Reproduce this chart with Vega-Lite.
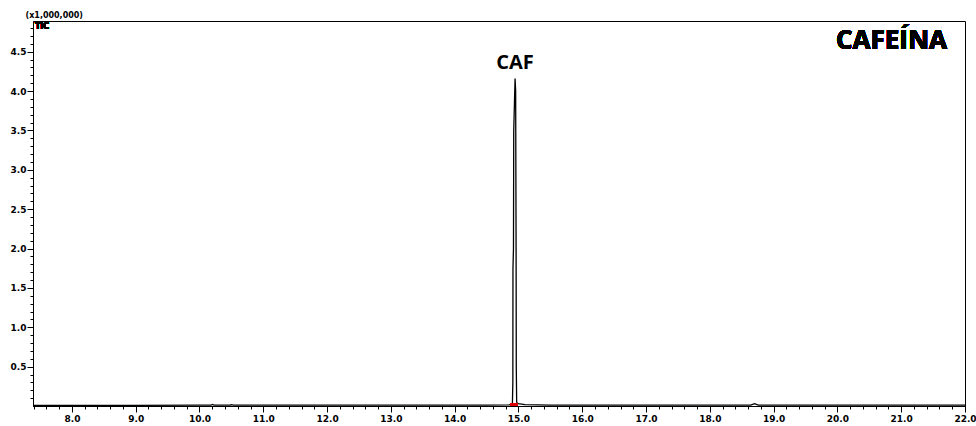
{
  "$schema": "https://vega.github.io/schema/vega-lite/v6.json",
  "width": 932,
  "height": 385,
  "autosize": {"type": "none"},
  "padding": {"left": 33, "top": 21, "right": 11, "bottom": 20},
  "background": "white",
  "config": {
    "view": {"stroke": "#000000", "strokeWidth": 1},
    "axis": {
      "domainColor": "#000000",
      "tickColor": "#000000",
      "labelColor": "#000000",
      "labelFont": "DejaVu Sans",
      "labelFontWeight": "bold",
      "labelFontSize": 9,
      "grid": false,
      "labelOverlap": false,
      "labelFlush": false
    }
  },
  "data": {
    "values": [
      {"t": 7.39, "tic": 0.008},
      {"t": 8.0, "tic": 0.008},
      {"t": 9.0, "tic": 0.009},
      {"t": 10.0, "tic": 0.01},
      {"t": 10.18, "tic": 0.01},
      {"t": 10.2, "tic": 0.02},
      {"t": 10.23, "tic": 0.01},
      {"t": 10.48, "tic": 0.01},
      {"t": 10.5, "tic": 0.017},
      {"t": 10.53, "tic": 0.01},
      {"t": 11.0, "tic": 0.01},
      {"t": 12.0, "tic": 0.01},
      {"t": 13.0, "tic": 0.01},
      {"t": 14.0, "tic": 0.01},
      {"t": 14.5, "tic": 0.012},
      {"t": 14.85, "tic": 0.015},
      {"t": 14.905, "tic": 0.02},
      {"t": 14.912, "tic": 0.3},
      {"t": 14.914, "tic": 1.75},
      {"t": 14.922, "tic": 2.0},
      {"t": 14.926, "tic": 3.5},
      {"t": 14.947, "tic": 4.16, "compound": "CAF"},
      {"t": 14.956, "tic": 4.0},
      {"t": 14.963, "tic": 2.0},
      {"t": 14.966, "tic": 0.5},
      {"t": 14.972, "tic": 0.05},
      {"t": 14.99, "tic": 0.03},
      {"t": 15.05, "tic": 0.025},
      {"t": 15.1, "tic": 0.018},
      {"t": 15.5, "tic": 0.012},
      {"t": 16.0, "tic": 0.01},
      {"t": 17.0, "tic": 0.01},
      {"t": 18.0, "tic": 0.01},
      {"t": 18.64, "tic": 0.012},
      {"t": 18.7, "tic": 0.03},
      {"t": 18.76, "tic": 0.012},
      {"t": 19.0, "tic": 0.01},
      {"t": 20.0, "tic": 0.01},
      {"t": 21.0, "tic": 0.01},
      {"t": 22.0, "tic": 0.01}
    ]
  },
  "encoding": {
    "x": {
      "field": "t",
      "type": "quantitative",
      "scale": {"domain": [7.39, 22.0], "nice": false, "zero": false},
      "axis": {
        "title": null,
        "values": [7.4, 7.6, 7.8, 8.0, 8.2, 8.4, 8.6, 8.8, 9.0, 9.2, 9.4, 9.6, 9.8, 10.0, 10.2, 10.4, 10.6, 10.8, 11.0, 11.2, 11.4, 11.6, 11.8, 12.0, 12.2, 12.4, 12.6, 12.8, 13.0, 13.2, 13.4, 13.6, 13.8, 14.0, 14.2, 14.4, 14.6, 14.8, 15.0, 15.2, 15.4, 15.6, 15.8, 16.0, 16.2, 16.4, 16.6, 16.8, 17.0, 17.2, 17.4, 17.6, 17.8, 18.0, 18.2, 18.4, 18.6, 18.8, 19.0, 19.2, 19.4, 19.6, 19.8, 20.0, 20.2, 20.4, 20.6, 20.8, 21.0, 21.2, 21.4, 21.6, 21.8, 22.0],
        "labelExpr": "abs(datum.value - round(datum.value)) < 0.01 ? format(datum.value, '.1f') : ''",
        "tickSize": {"condition": {"test": "abs(datum.value - round(datum.value)) < 0.01", "value": 6}, "value": 3},
        "labelPadding": 2
      }
    },
    "y": {
      "field": "tic",
      "type": "quantitative",
      "scale": {"domain": [0, 4.89], "nice": false},
      "axis": {
        "title": "(x1,000,000)",
        "titleAngle": 0,
        "titleAlign": "left",
        "titleBaseline": "bottom",
        "titleX": -8,
        "titleY": -2,
        "titleFont": "DejaVu Sans",
        "titleFontSize": 8,
        "titleFontWeight": "bold",
        "titleColor": "#000000",
        "values": [0.1, 0.2, 0.3, 0.4, 0.5, 0.6, 0.7, 0.8, 0.9, 1.0, 1.1, 1.2, 1.3, 1.4, 1.5, 1.6, 1.7, 1.8, 1.9, 2.0, 2.1, 2.2, 2.3, 2.4, 2.5, 2.6, 2.7, 2.8, 2.9, 3.0, 3.1, 3.2, 3.3, 3.4, 3.5, 3.6, 3.7, 3.8, 3.9, 4.0, 4.1, 4.2, 4.3, 4.4, 4.5, 4.6, 4.7, 4.8],
        "labelExpr": "abs(datum.value * 2 - round(datum.value * 2)) < 0.01 ? format(datum.value, '.1f') : ''",
        "tickSize": {"condition": {"test": "abs(datum.value * 2 - round(datum.value * 2)) < 0.01", "value": 6}, "value": 3},
        "labelPadding": 1
      }
    }
  },
  "layer": [
    {
      "mark": {"type": "line", "color": "#000000", "strokeWidth": 1.3, "interpolate": "linear"}
    },
    {
      "mark": {"type": "rule", "color": "#e00000", "strokeWidth": 2},
      "encoding": {
        "x": {"datum": 14.88},
        "x2": {"datum": 14.985},
        "y": {"datum": 0.02}
      }
    },
    {
      "transform": [{"filter": "isValid(datum.compound)"}],
      "mark": {"type": "text", "font": "Open Sans", "fontWeight": "bold", "fontSize": 20, "baseline": "bottom", "align": "center", "dy": -5, "color": "#000000"},
      "encoding": {
        "text": {"field": "compound"}
      }
    },
    {
      "mark": {"type": "text", "font": "DejaVu Sans", "fontWeight": "bold", "fontSize": 8, "baseline": "top", "align": "left", "color": "#000000"},
      "encoding": {
        "x": {"datum": 7.42},
        "y": {"datum": 4.86},
        "text": {"value": "TIC"}
      }
    },
    {
      "mark": {"type": "text", "font": "Open Sans", "fontWeight": "bold", "fontSize": 26, "baseline": "top", "align": "right", "dx": -18, "dy": 7, "color": "#000000"},
      "encoding": {
        "x": {"datum": 22.0},
        "y": {"datum": 4.89},
        "text": {"value": "CAFEÍNA"}
      }
    }
  ]
}
